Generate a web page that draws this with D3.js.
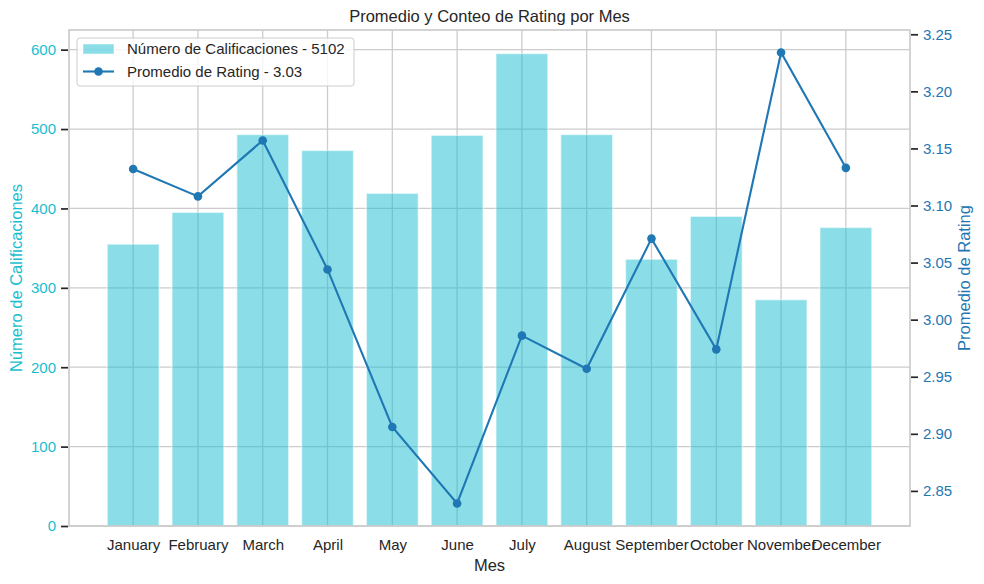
<!DOCTYPE html>
<html>
<head>
<meta charset="utf-8">
<script src="https://cdn.jsdelivr.net/npm/d3@7"></script>
<style>
  body { margin: 0; background: #fff; }
  svg { display: block; font-family: "Liberation Sans", Arial, sans-serif; }
</style>
</head>
<body>
<svg id="chart" width="984" height="584"></svg>
<script>
/* data */
const MONTHS = ['January','February','March','April','May','June','July','August','September','October','November','December'];
const COUNTS = [355, 395, 493, 473, 419, 492, 595, 493, 336, 390, 285, 376];
const RATINGS = [3.132, 3.108, 3.157, 3.044, 2.906, 2.839, 2.986, 2.957, 3.071, 2.974, 3.234, 3.133];
const LEFT_TICKS = [0, 100, 200, 300, 400, 500, 600];
const RIGHT_TICKS = [2.85, 2.90, 2.95, 3.00, 3.05, 3.10, 3.15, 3.20, 3.25];
const LEGEND_LABELS = ['Número de Calificaciones - 5102', 'Promedio de Rating - 3.03'];

const CYAN = '#17becf', BLUE = '#1f77b4', GRID = '#cccccc', DARK = '#262626';
const M = { left: 69, right: 910, top: 30, bottom: 526 };

const svg = d3.select('#chart');

// matplotlib-like autoscale with 5% margins
const x = d3.scaleLinear().domain([-0.4 - 0.59, 11.4 + 0.59]).range([M.left, M.right]);
const yL = d3.scaleLinear().domain([0, d3.max(COUNTS) * 1.05]).range([M.bottom, M.top]);
const [rMin, rMax] = d3.extent(RATINGS);
const rPad = (rMax - rMin) * 0.05;
const yR = d3.scaleLinear().domain([rMin - rPad, rMax + rPad]).range([M.bottom, M.top]);

/* grid */
const grid = svg.append('g');
grid.selectAll('.gx').data(d3.range(MONTHS.length)).join('line')
  .attr('x1', d => x(d)).attr('x2', d => x(d))
  .attr('y1', M.top).attr('y2', M.bottom)
  .attr('stroke', GRID).attr('stroke-width', 1.3);
grid.selectAll('.gy').data(LEFT_TICKS).join('line')
  .attr('x1', M.left).attr('x2', M.right)
  .attr('y1', d => yL(d)).attr('y2', d => yL(d))
  .attr('stroke', GRID).attr('stroke-width', 1.3);

/* bars */
const bw = x(0.4) - x(-0.4);
svg.append('g').selectAll('rect').data(COUNTS).join('rect')
  .attr('x', (d, i) => x(i) - bw / 2)
  .attr('y', d => yL(d))
  .attr('width', bw)
  .attr('height', d => yL(0) - yL(d))
  .attr('fill', CYAN).attr('fill-opacity', 0.5)
  .attr('stroke', '#fff').attr('stroke-opacity', 0.5).attr('stroke-width', 1.3);

/* spines */
svg.append('rect')
  .attr('x', M.left).attr('y', M.top)
  .attr('width', M.right - M.left).attr('height', M.bottom - M.top)
  .attr('fill', 'none').attr('stroke', GRID).attr('stroke-width', 1.7);

/* line */
const line = d3.line().x((d, i) => x(i)).y(d => yR(d));
svg.append('path').datum(RATINGS)
  .attr('d', line).attr('fill', 'none')
  .attr('stroke', BLUE).attr('stroke-width', 2.1);
svg.append('g').selectAll('circle').data(RATINGS).join('circle')
  .attr('cx', (d, i) => x(i)).attr('cy', d => yR(d)).attr('r', 4.3)
  .attr('fill', BLUE);

/* axes */
const xAxis = svg.append('g').attr('transform', `translate(0,${M.bottom})`)
  .call(d3.axisBottom(x).tickValues(d3.range(MONTHS.length)).tickFormat(i => MONTHS[i]).tickSize(0).tickPadding(13));
xAxis.select('.domain').remove();
xAxis.selectAll('text').attr('fill', DARK).attr('font-size', '15px');

const lAxis = svg.append('g').attr('transform', `translate(${M.left - 1},0)`)
  .call(d3.axisLeft(yL).tickValues(LEFT_TICKS).tickSize(7).tickPadding(5));
lAxis.select('.domain').remove();
lAxis.selectAll('line').attr('stroke', DARK).attr('stroke-width', 1.7);
lAxis.selectAll('text').attr('fill', CYAN).attr('font-size', '15px');

const rAxis = svg.append('g').attr('transform', `translate(${M.right + 1},0)`)
  .call(d3.axisRight(yR).tickValues(RIGHT_TICKS).tickFormat(d3.format('.2f')).tickSize(7).tickPadding(5));
rAxis.select('.domain').remove();
rAxis.selectAll('line').attr('stroke', DARK).attr('stroke-width', 1.7);
rAxis.selectAll('text').attr('fill', BLUE).attr('font-size', '15px');

/* labels */
svg.append('text').attr('x', (M.left + M.right) / 2).attr('y', 22)
  .attr('text-anchor', 'middle').attr('font-size', '16.5px').attr('fill', DARK)
  .text('Promedio y Conteo de Rating por Mes');
svg.append('text').attr('x', (M.left + M.right) / 2).attr('y', 571)
  .attr('text-anchor', 'middle').attr('font-size', '16.5px').attr('fill', DARK)
  .text('Mes');
svg.append('text').attr('transform', `translate(22,${(M.top + M.bottom) / 2}) rotate(-90)`)
  .attr('text-anchor', 'middle').attr('font-size', '16.5px').attr('fill', CYAN)
  .text('Número de Calificaciones');
svg.append('text').attr('transform', `translate(970,${(M.top + M.bottom) / 2}) rotate(-90)`)
  .attr('text-anchor', 'middle').attr('font-size', '16.5px').attr('fill', BLUE)
  .text('Promedio de Rating');

/* legend */
const lg = svg.append('g').attr('transform', 'translate(77,38)');
lg.append('rect').attr('width', 277).attr('height', 48).attr('rx', 3)
  .attr('fill', '#fff').attr('fill-opacity', 0.8).attr('stroke', GRID);
lg.append('rect').attr('x', 6).attr('y', 6).attr('width', 31).attr('height', 10)
  .attr('fill', CYAN).attr('fill-opacity', 0.5)
  .attr('stroke', '#fff').attr('stroke-opacity', 0.5);
lg.append('line').attr('x1', 6).attr('x2', 37).attr('y1', 33.5).attr('y2', 33.5)
  .attr('stroke', BLUE).attr('stroke-width', 2.1);
lg.append('circle').attr('cx', 21.5).attr('cy', 33.5).attr('r', 4.3).attr('fill', BLUE);
lg.selectAll('.lt').data(LEGEND_LABELS).join('text')
  .attr('x', 50).attr('y', (d, i) => 11 + i * 23).attr('dy', '0.35em')
  .attr('font-size', '15px').attr('fill', DARK)
  .text(d => d);
</script>
</body>
</html>
